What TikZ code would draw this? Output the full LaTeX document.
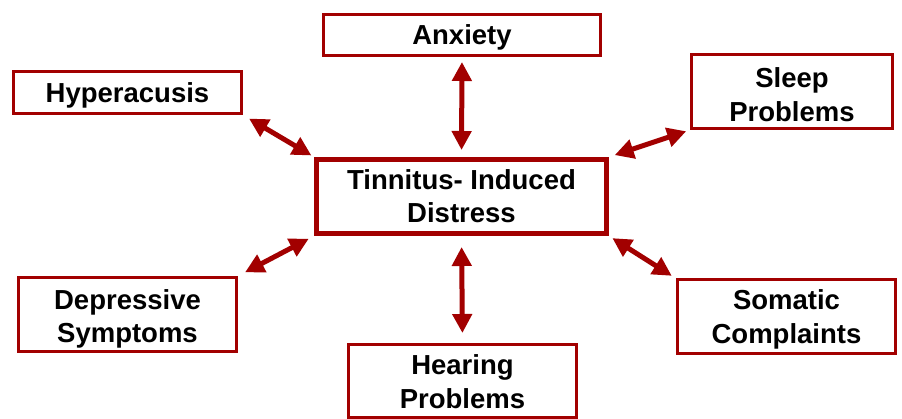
\documentclass[tikz,border=0pt]{standalone}
\usepackage{fontspec}
\setmainfont{Liberation Sans}
\usetikzlibrary{arrows.meta}
\definecolor{darkred}{HTML}{A20000}
\newlength\boxdrop
\newcommand\boxtop{\rule{0pt}{\dimexpr0.905em+2\boxdrop\relax}}
\newcommand\boxbot{\rule[-0.212em]{0pt}{0pt}}

\begin{document}
\begin{tikzpicture}[x=1pt,y=-1pt,
    box/.style={draw=darkred,line width=3pt,align=center,inner sep=0pt,
      font=\fontsize{27.5}{33.5}\selectfont\bfseries,
      execute at end node=\boxbot},
    mainbox/.style={box,line width=5pt},
    textdrop/.code={\setlength\boxdrop{#1}},
    link/.style={draw=darkred,line width=5pt,
      {Triangle[length=19pt,width=19pt]}-{Triangle[length=19pt,width=19pt]}}]
    \useasboundingbox (0,0) rectangle (902,419);
    \node at (461.5,196.5) (tid) [mainbox,minimum width=290pt,minimum height=74pt] {\boxtop Tinnitus- Induced\\Distress};
    \node at (462,35)      (anx) [box,minimum width=277pt,minimum height=41pt] {\boxtop Anxiety};
    \node at (127.5,92.5)  (hyp) [box,minimum width=228pt,minimum height=42pt] {\boxtop Hyperacusis};
    \node at (792,91.5)    (slp) [box,textdrop=3.5pt,minimum width=201pt,minimum height=74pt] {\boxtop Sleep\\Problems};
    \node at (127.5,314.5) (dep) [box,textdrop=2pt,minimum width=218pt,minimum height=74pt] {\boxtop Depressive\\Symptoms};
    \node at (786.5,317)   (som) [box,minimum width=218pt,minimum height=74pt] {\boxtop Somatic\\Complaints};
    \node at (462.5,381)   (hrg) [box,textdrop=1pt,minimum width=228pt,minimum height=73pt] {\boxtop Hearing\\Problems};

    \draw[link,shorten <=5pt,shorten >=7pt] (anx.south) to (tid.north);
    \draw[link,shorten <=7pt,shorten >=3pt] (hyp.south east) to (tid.north west);
    \draw[link,shorten <=6pt,shorten >=4pt] (tid.north east) to (slp.south west);
    \draw[link,shorten <=8pt,shorten >=6pt] (dep.north east) to (tid.south west);
    \draw[link,shorten <=4pt,shorten >=5pt] (tid.south east) to (som.north west);
    \draw[link,shorten <=11pt,shorten >=10pt] (tid.south) to (hrg.north);
\end{tikzpicture}
\end{document}
